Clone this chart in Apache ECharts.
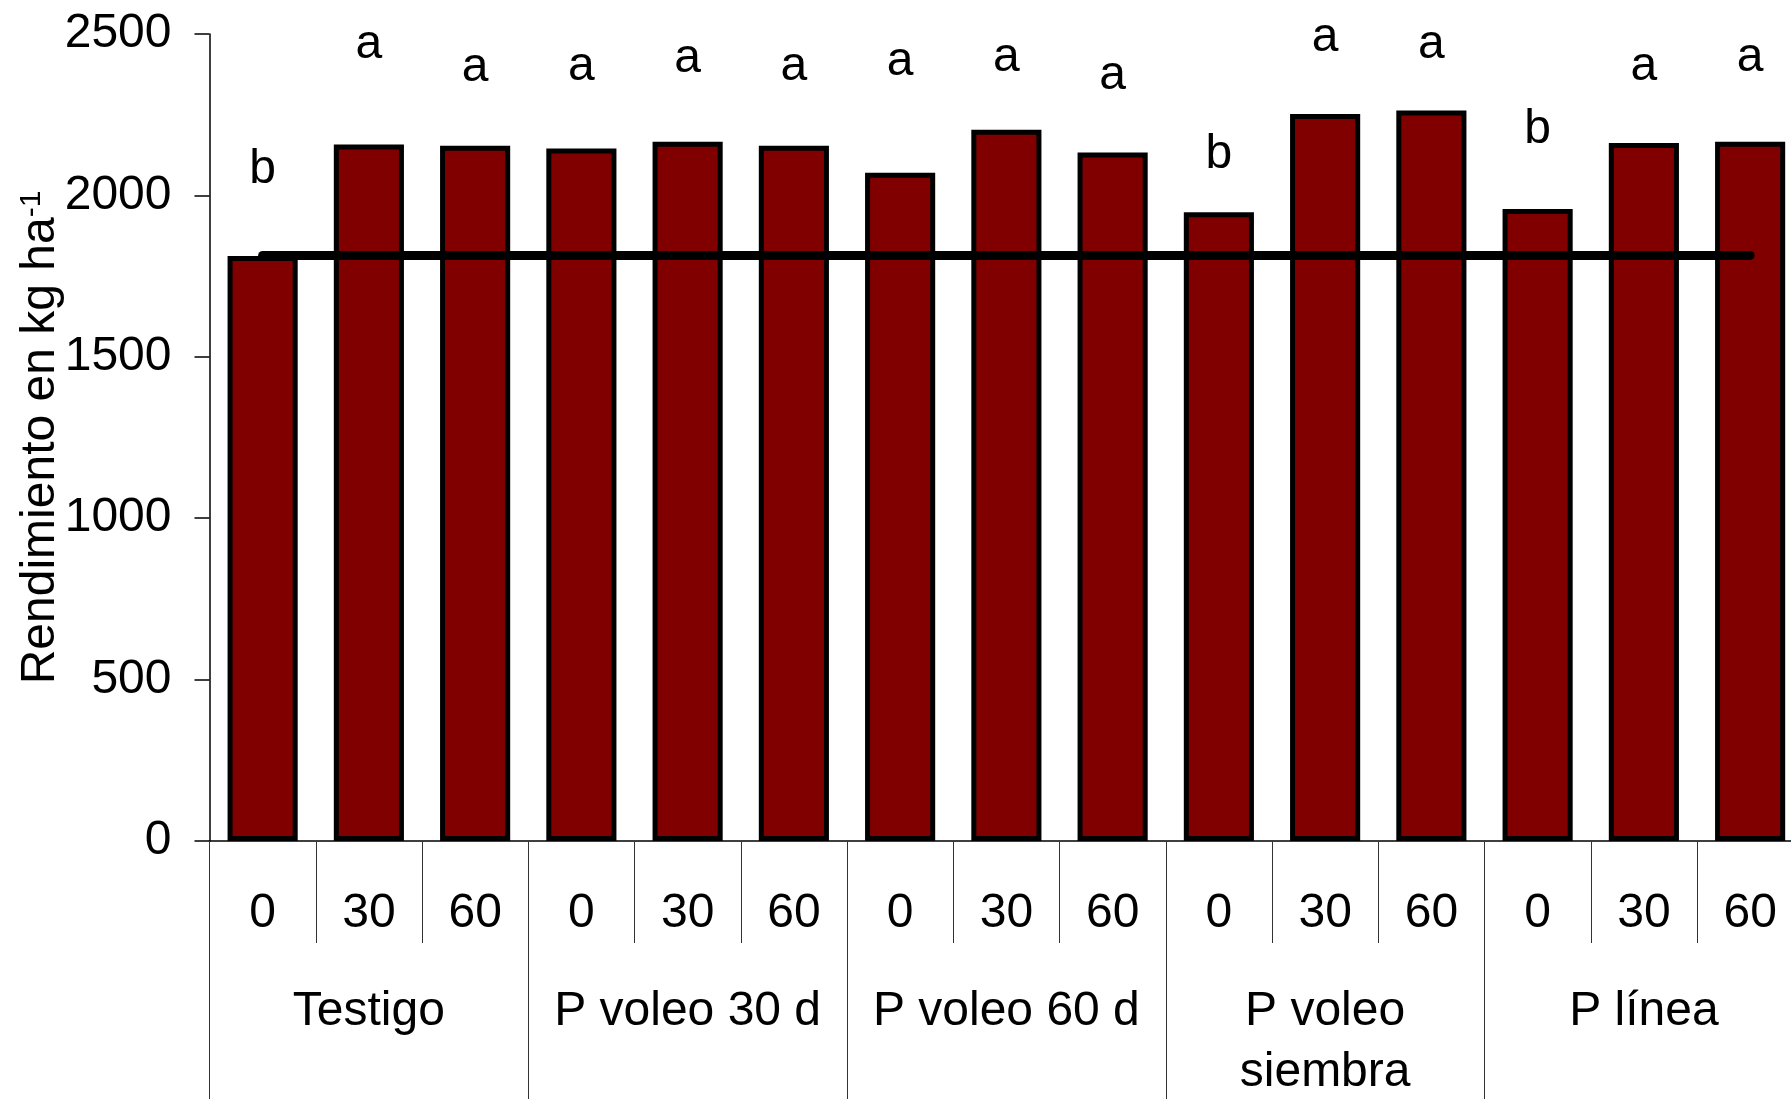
<!DOCTYPE html>
<html>
<head>
<meta charset="utf-8">
<script src="https://cdn.jsdelivr.net/npm/echarts@6/dist/echarts.min.js"></script>
<style>
html,body{margin:0;padding:0;background:#fff;}
#c{width:1791px;height:1099px;}
</style>
</head>
<body>
<div id="c"></div>
<script>
// ---- data ----
const doses = ['0','30','60','0','30','60','0','30','60','0','30','60','0','30','60'];
const groups = ['Testigo','P voleo 30 d','P voleo 60 d','P voleo\nsiembra','P línea'];
const yields = [1812, 2158, 2154, 2145, 2166, 2154, 2070, 2203, 2133, 1948, 2252, 2263, 1958, 2162, 2166];
const letters = ['b','a','a','a','a','a','a','a','a','b','a','a','b','a','a'];
const letterPos = [2079, 2466, 2394, 2399, 2423, 2399, 2414, 2425, 2370, 2125, 2487, 2466, 2203, 2399, 2425];
const testigoMean = 1814;
const yMin = 0, yMax = 2500, yStep = 500;

const FONT = '"Liberation Sans", Arial, sans-serif';

const chart = echarts.init(document.getElementById('c'), null, {renderer: 'canvas'});
chart.setOption({
  animation: false,
  backgroundColor: '#fff',
  grid: {left: 209.5, top: 34, right: -12.25, bottom: 258, containLabel: false, outerBoundsMode: 'none'},
  xAxis: [
    {
      type: 'category', data: doses, position: 'bottom',
      axisLine: {show: true, lineStyle: {color: '#000', width: 1.5}},
      axisTick: {show: true, interval: 0, length: 102, lineStyle: {color: '#333', width: 1}},
      axisLabel: {interval: 0, fontSize: 48, lineHeight: 48, margin: 49, color: '#000', fontFamily: FONT},
      splitLine: {show: false}
    },
    {
      type: 'category', data: groups, position: 'bottom',
      axisLine: {show: false},
      axisTick: {show: true, interval: 0, length: 262, lineStyle: {color: '#333', width: 1}},
      axisLabel: {interval: 0, fontSize: 48, lineHeight: 61, margin: 140, color: '#000', fontFamily: FONT, align: 'center'},
      splitLine: {show: false}
    }
  ],
  yAxis: {
    type: 'value', min: yMin, max: yMax, interval: yStep,
    axisLine: {show: true, lineStyle: {color: '#000', width: 1.5}},
    axisTick: {show: true, length: 15, lineStyle: {color: '#000', width: 1.5}},
    splitLine: {show: false},
    axisLabel: {fontSize: 48, margin: 38, color: '#000', fontFamily: FONT, formatter: v => String(v)},
    name: '{m|Rendimiento en kg ha}{s|-1}',
    nameLocation: 'middle', nameRotate: 90, nameGap: 145, nameMoveOverlap: false,
    nameTextStyle: {
      fontSize: 48, lineHeight: 48, color: '#000', fontFamily: FONT,
      rich: {
        m: {fontSize: 48, lineHeight: 48, color: '#000', fontFamily: FONT},
        s: {fontSize: 30, lineHeight: 2, verticalAlign: 'top', color: '#000', fontFamily: FONT}
      }
    }
  },
  series: [
    {
      type: 'bar', data: yields, barWidth: '66%',
      itemStyle: {color: '#800000', borderColor: '#000', borderWidth: 5},
      z: 2
    },
    {
      type: 'line', data: [[0, testigoMean], [yields.length - 1, testigoMean]],
      symbol: 'none', lineStyle: {color: '#000', width: 9, cap: 'round'},
      z: 5, silent: true
    },
    {
      type: 'scatter', clip: false,
      data: letterPos.map((v, i) => [i, v]),
      symbolSize: 0, itemStyle: {color: '#000'},
      label: {
        show: true, position: 'inside',
        formatter: p => letters[p.dataIndex],
        fontSize: 48, color: '#000', fontFamily: FONT,
        textBorderWidth: 0, opacity: 1
      },
      z: 6
    }
  ]
});
</script>
</body>
</html>
